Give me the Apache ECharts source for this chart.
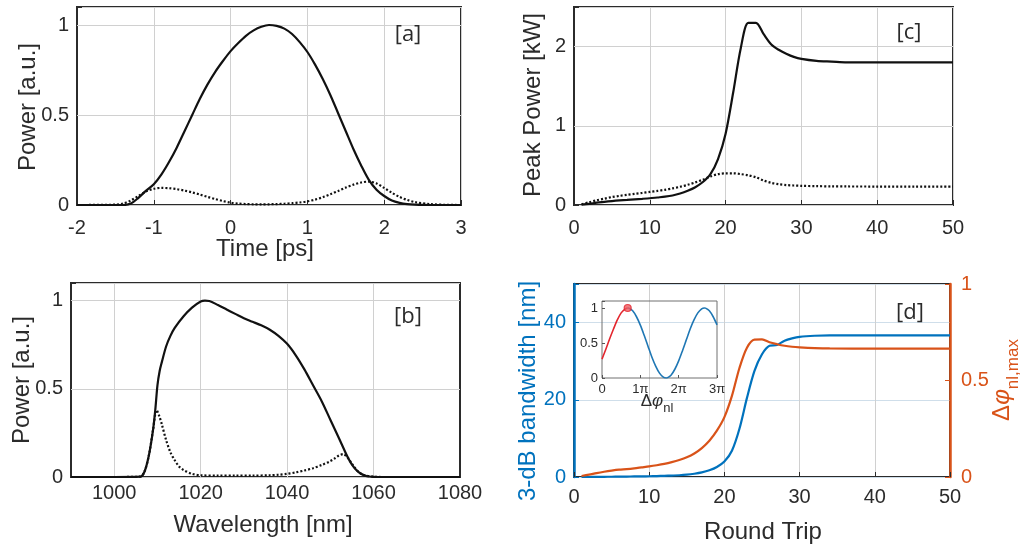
<!DOCTYPE html>
<html><head><meta charset="utf-8">
<script src="https://cdn.jsdelivr.net/npm/echarts@6/dist/echarts.min.js"></script>
<style>html,body{margin:0;padding:0;background:#fff}#c{width:1025px;height:547px}</style>
</head><body><div id="c"></div>
<script>
// ---------- Panel [a]: temporal power ----------
const timeA = [-2, -1.5, -1.4, -1.3, -1.2, -1.1, -1.0, -0.9, -0.8, -0.7, -0.6, -0.5, -0.4, -0.3, -0.2, -0.1, 0, 0.1, 0.2, 0.3, 0.4, 0.5, 0.6, 0.7, 0.8, 0.9, 1.0, 1.1, 1.2, 1.3, 1.4, 1.5, 1.6, 1.7, 1.8, 1.9, 2.0, 2.1, 2.2, 2.3, 2.4, 2.6, 2.8, 3.0];
const powerASolid = [0, 0, 0, 0.008, 0.04, 0.08, 0.115, 0.17, 0.24, 0.32, 0.41, 0.5, 0.59, 0.67, 0.74, 0.8, 0.855, 0.9, 0.94, 0.97, 0.99, 1.0, 0.995, 0.98, 0.95, 0.905, 0.85, 0.78, 0.7, 0.61, 0.51, 0.41, 0.31, 0.22, 0.14, 0.085, 0.05, 0.025, 0.012, 0.005, 0.002, 0, 0, 0];
const powerADot = [0, 0.002, 0.008, 0.025, 0.05, 0.075, 0.09, 0.095, 0.093, 0.088, 0.08, 0.07, 0.058, 0.045, 0.033, 0.022, 0.013, 0.008, 0.005, 0.004, 0.004, 0.004, 0.005, 0.007, 0.01, 0.014, 0.02, 0.03, 0.043, 0.06, 0.078, 0.097, 0.113, 0.125, 0.13, 0.12, 0.095, 0.068, 0.045, 0.028, 0.016, 0.005, 0.001, 0];
const powerTicksY = [0.5, 1];

// ---------- Panel [b]: spectrum ----------
const wlBSolid = [990, 1000, 1006, 1007, 1008, 1009, 1009.5, 1010, 1010.5, 1011, 1012, 1013, 1014, 1016, 1018, 1020, 1021, 1022, 1024, 1026, 1028, 1030, 1032, 1034, 1036, 1038, 1040, 1042, 1044, 1046, 1048, 1050, 1052, 1054, 1055, 1056, 1057, 1058, 1059, 1060, 1062, 1070, 1080];
const powerBSolid = [0, 0, 0.002, 0.03, 0.12, 0.27, 0.38, 0.52, 0.6, 0.65, 0.74, 0.8, 0.845, 0.91, 0.96, 0.995, 1.0, 0.998, 0.975, 0.95, 0.925, 0.9, 0.88, 0.86, 0.835, 0.8, 0.755, 0.69, 0.61, 0.52, 0.43, 0.325, 0.22, 0.113, 0.07, 0.04, 0.02, 0.008, 0.003, 0.001, 0, 0, 0];
const wlBDot = [990, 1000, 1006, 1007, 1008, 1009, 1009.8, 1010.5, 1011, 1012, 1013, 1014, 1015, 1016, 1018, 1020, 1024, 1028, 1032, 1036, 1038, 1040, 1042, 1044, 1046, 1048, 1050, 1051, 1052, 1053, 1054, 1055, 1056, 1057, 1058, 1060, 1062, 1070, 1080];
const powerBDot = [0, 0, 0.002, 0.03, 0.12, 0.27, 0.38, 0.34, 0.3, 0.21, 0.14, 0.095, 0.06, 0.04, 0.018, 0.01, 0.008, 0.008, 0.008, 0.01, 0.013, 0.018, 0.026, 0.037, 0.05, 0.068, 0.09, 0.105, 0.122, 0.13, 0.11, 0.075, 0.042, 0.02, 0.009, 0.002, 0, 0, 0];
const wavelengthTicks = [1000, 1020, 1040, 1060];

// ---------- Panel [c]: peak power ----------
const roundC = [1, 2, 3, 4, 5, 6, 7, 8, 9, 10, 11, 12, 13, 14, 15, 16, 17, 18, 19, 20, 21, 22, 23, 24, 25, 26, 27, 28, 29, 30, 32, 34, 36, 40, 45, 50];
const peakSolid = [0.005, 0.015, 0.03, 0.04, 0.05, 0.058, 0.065, 0.072, 0.078, 0.085, 0.095, 0.105, 0.12, 0.145, 0.18, 0.225, 0.29, 0.39, 0.58, 0.9, 1.42, 1.98, 2.3, 2.3, 2.16, 2.03, 1.96, 1.91, 1.87, 1.845, 1.82, 1.81, 1.8, 1.8, 1.8, 1.8];
const peakDot = [0.01, 0.035, 0.06, 0.08, 0.1, 0.115, 0.128, 0.14, 0.152, 0.165, 0.178, 0.192, 0.21, 0.23, 0.255, 0.285, 0.32, 0.36, 0.39, 0.4, 0.4, 0.39, 0.375, 0.35, 0.31, 0.28, 0.262, 0.252, 0.246, 0.242, 0.238, 0.235, 0.234, 0.233, 0.232, 0.232];
const peakTicksY = [1, 2];

// ---------- Panel [d]: bandwidth & nonlinear phase ----------
const roundD = [1, 2, 3, 4, 5, 6, 7, 8, 9, 10, 11, 12, 13, 14, 15, 16, 17, 18, 19, 20, 21, 22, 23, 24, 25, 26, 27, 28, 29, 30, 32, 34, 40, 50];
const bandwidthD = [0, 0, 0.02, 0.05, 0.07, 0.1, 0.12, 0.15, 0.17, 0.2, 0.25, 0.3, 0.37, 0.45, 0.6, 0.85, 1.2, 1.75, 2.6, 4.0, 6.8, 12.5, 20.5, 27.5, 31.8, 34.0, 34.2, 35.3, 35.9, 36.3, 36.6, 36.7, 36.7, 36.7];
const phiMaxD = [0.005, 0.012, 0.02, 0.027, 0.033, 0.038, 0.041, 0.045, 0.05, 0.055, 0.061, 0.068, 0.077, 0.088, 0.102, 0.122, 0.15, 0.188, 0.24, 0.31, 0.42, 0.565, 0.67, 0.712, 0.713, 0.698, 0.688, 0.68, 0.675, 0.672, 0.668, 0.666, 0.665, 0.665];

// ---------- Inset: transmission vs nonlinear phase (units of pi) ----------
const phiRed = [0, 0.1, 0.2, 0.3, 0.4, 0.5, 0.6, 0.67];
const transRed = [0.27, 0.41, 0.56, 0.7, 0.83, 0.93, 0.985, 1.0];
const phiBlue = [0.67, 0.7, 0.8, 0.9, 1.0, 1.1, 1.2, 1.3, 1.4, 1.5, 1.6, 1.67, 1.7, 1.8, 1.9, 2.0, 2.1, 2.2, 2.3, 2.4, 2.5, 2.6, 2.67, 2.7, 2.8, 2.9, 3.0];
const transBlue = [1.0, 0.998, 0.96, 0.875, 0.755, 0.61, 0.455, 0.3, 0.17, 0.07, 0.012, 0, 0.002, 0.04, 0.125, 0.245, 0.39, 0.545, 0.7, 0.83, 0.93, 0.988, 1.0, 0.998, 0.96, 0.875, 0.76];
const operatingPoint = [[0.67, 1.0]];
const insetXTicks = ['0', '1π', '2π', '3π'];

// ---------- styling ----------
const FONT = '"Liberation Sans", Arial, sans-serif';
const TXT = '#2b2b2b';
const GRIDC = '#d0d0d0';
const BLUE = '#0072BD';
const ORANGE = '#D95319';
const RED = '#e3262e';

const pairs = (xs, ys) => xs.map((x, i) => [x, ys[i]]);
const fmtNum = v => (Math.round(v * 1000) / 1000).toString();
const onStep = (v, s) => Math.abs(v / s - Math.round(v / s)) < 1e-6;

function xAx(gi, min, max, interval, margin, extra) {
  return Object.assign({
    type: 'value', gridIndex: gi, min, max, interval,
    axisLine: { show: false, onZero: false },
    axisTick: { show: true, inside: true, length: 5, lineStyle: { color: TXT, width: 1 } },
    axisLabel: { color: TXT, fontSize: 20, fontFamily: FONT, margin: margin, showMinLabel: true, showMaxLabel: true,
      formatter: v => onStep(v, interval) ? fmtNum(v) : '' },
    splitLine: { show: true, lineStyle: { color: GRIDC, width: 1 } }
  }, extra || {});
}
function yAx(gi, min, max, interval, step, extra) {
  return Object.assign({
    type: 'value', gridIndex: gi, min, max, interval,
    axisLine: { show: true, onZero: false, lineStyle: { color: TXT, width: 2 } },
    axisTick: { show: true, inside: true, length: 5, lineStyle: { color: TXT, width: 1 } },
    axisLabel: { color: TXT, fontSize: 20, fontFamily: FONT, margin: 8, showMinLabel: true,
      formatter: v => onStep(v, step) ? fmtNum(v) : '' },
    splitLine: { show: true, lineStyle: { color: GRIDC, width: 1 } }
  }, extra || {});
}
function line(xi, yi, data, color, dotted, width) {
  return {
    type: 'line', xAxisIndex: xi, yAxisIndex: yi, data, showSymbol: false, symbol: 'none',
    smooth: 0.3, silent: true, z: 3, animation: false,
    lineStyle: { color, width: width || 2.2, type: dotted ? [2, 2] : 'solid' }
  };
}
// invisible copy of a curve that carries the gridlines as mark lines
function gridHelper(xi, yi, data, xs, ys) {
  return {
    type: 'line', xAxisIndex: xi, yAxisIndex: yi, data, showSymbol: false, symbol: 'none', silent: true, z: 2,
    lineStyle: { width: 0, opacity: 0 },
    markLine: { silent: true, symbol: 'none', z: 1, label: { show: false }, animation: false,
      lineStyle: { color: GRIDC, width: 1, type: 'solid', opacity: 1 },
      data: xs.map(v => ({ xAxis: v })).concat(ys.map(v => ({ yAxis: v }))) }
  };
}
function label(x, y, text, size, color, rot, extra) {
  return {
    type: 'text', x, y, rotation: rot || 0, z: 10,
    style: Object.assign({ text, fill: color || TXT, fontSize: size, fontFamily: FONT,
      align: 'center', verticalAlign: 'middle', textAlign: 'center', textVerticalAlign: 'middle' }, extra || {})
  };
}

const gridBox = { show: true, borderColor: TXT, borderWidth: 2, backgroundColor: 'transparent' };

const option = {
  animation: false,
  backgroundColor: '#fff',
  grid: [
    Object.assign({ left: 77, top: 7, width: 384, height: 198 }, gridBox),   // a
    Object.assign({ left: 71, top: 283, width: 389, height: 194 }, gridBox), // b
    Object.assign({ left: 574, top: 7, width: 379, height: 198 }, gridBox),  // c
    Object.assign({ left: 574, top: 284, width: 376, height: 193 }, gridBox), // d
    { left: 602, top: 301, width: 115, height: 77, show: true, borderColor: '#707070', borderWidth: 1, backgroundColor: 'transparent', z: 5 } // inset
  ],
  xAxis: [
    xAx(0, -2, 3, 1, 13),
    xAx(1, 990, 1080, 10, 6, {
      axisTick: { show: false }, splitLine: { show: false },
      axisLabel: { color: TXT, fontSize: 20, fontFamily: FONT, margin: 6, showMinLabel: true, showMaxLabel: true,
        formatter: v => onStep(v, 20) && v >= 1000 ? fmtNum(v) : '' }
    }),
    xAx(2, 0, 50, 10, 13),
    xAx(3, 0, 50, 10, 10),
    xAx(4, 0, 3, 1, 5, {
      axisTick: { show: true, inside: true, length: 3, lineStyle: { color: '#555' } },
      splitLine: { show: false }, z: 6,
      axisLabel: { color: TXT, fontSize: 13, fontFamily: FONT, margin: 5, showMinLabel: true, showMaxLabel: true,
        formatter: v => onStep(v, 1) ? insetXTicks[Math.round(v)] : '' }
    })
  ],
  yAxis: [
    yAx(0, 0, 1.1, 0.5, 0.5),
    yAx(1, 0, 1.1, 0.5, 0.5),
    yAx(2, 0, 2.5, 1, 1),
    yAx(3, 0, 50, 20, 20, {
      axisLine: { show: true, onZero: false, lineStyle: { color: BLUE, width: 2.5 } },
      axisTick: { show: true, inside: true, length: 5, lineStyle: { color: BLUE } },
      axisLabel: { color: BLUE, fontSize: 20, fontFamily: FONT, margin: 8, showMinLabel: true,
        formatter: v => onStep(v, 20) ? fmtNum(v) : '' },
      splitLine: { show: true, lineStyle: { color: '#cfdeea', width: 1 } }
    }),
    yAx(3, 0, 1, 0.5, 0.5, {
      position: 'right',
      axisLine: { show: true, onZero: false, lineStyle: { color: ORANGE, width: 2.5 } },
      axisTick: { show: true, inside: true, length: 5, lineStyle: { color: ORANGE } },
      axisLabel: { color: ORANGE, fontSize: 20, fontFamily: FONT, margin: 11, showMinLabel: true, showMaxLabel: true,
        formatter: v => onStep(v, 0.5) ? fmtNum(v) : '' },
      splitLine: { show: false }
    }),
    yAx(4, 0, 1.1, 0.5, 0.5, {
      axisLine: { show: false, onZero: false },
      axisTick: { show: true, inside: true, length: 3, lineStyle: { color: '#555' } },
      splitLine: { show: false }, z: 6,
      axisLabel: { color: TXT, fontSize: 13, fontFamily: FONT, margin: 4, showMinLabel: true,
        formatter: v => onStep(v, 0.5) ? fmtNum(v) : '' }
    })
  ],
  series: [
    gridHelper(0, 0, pairs(timeA, powerASolid), [], powerTicksY),
    line(0, 0, pairs(timeA, powerADot), '#111', true),
    line(0, 0, pairs(timeA, powerASolid), '#111', false),
    gridHelper(1, 1, pairs(wlBSolid, powerBSolid), wavelengthTicks, powerTicksY),
    line(1, 1, pairs(wlBDot, powerBDot), '#111', true),
    line(1, 1, pairs(wlBSolid, powerBSolid), '#111', false),
    gridHelper(2, 2, pairs(roundC, peakSolid), [], peakTicksY),
    line(2, 2, pairs(roundC, peakDot), '#111', true),
    line(2, 2, pairs(roundC, peakSolid), '#111', false),
    line(3, 3, pairs(roundD, bandwidthD), BLUE, false),
    line(3, 4, pairs(roundD, phiMaxD), ORANGE, false),
    Object.assign(line(4, 5, pairs(phiRed, transRed), RED, false, 1.6), { z: 7 }),
    Object.assign(line(4, 5, pairs(phiBlue, transBlue), '#1f77b4', false, 1.6), { z: 7 }),
    { type: 'scatter', xAxisIndex: 4, yAxisIndex: 5, data: operatingPoint, symbol: 'circle', symbolSize: 7, z: 8,
      silent: true, itemStyle: { color: '#ee5a5f', borderColor: RED, borderWidth: 1.2 } }
  ],
  graphic: [
    label(265, 249, 'Time [ps]', 24),
    label(28, 107, 'Power [a.u.]', 24, TXT, Math.PI / 2),
    label(408, 35, '[a]', 22, TXT, 0, { fontFamily: '"Open Sans", sans-serif' }),
    label(263, 525, 'Wavelength [nm]', 24),
    label(22, 380, 'Power [a.u.]', 24, TXT, Math.PI / 2),
    label(408, 317, '[b]', 22, TXT, 0, { fontFamily: '"Open Sans", sans-serif' }),
    label(533, 105, 'Peak Power [kW]', 24, TXT, Math.PI / 2),
    label(909, 33, '[c]', 22, TXT, 0, { fontFamily: '"Open Sans", sans-serif' }),
    label(763, 532, 'Round Trip', 24),
    label(528, 391, '3-dB bandwidth [nm]', 24, BLUE, Math.PI / 2),
    label(910, 313, '[d]', 22, TXT, 0, { fontFamily: '"Open Sans", sans-serif' }),
    label(1006, 380, '{a|Δ}{b|φ}{c|nl,max}', 24, ORANGE, Math.PI / 2, {
      rich: {
        a: { fontSize: 24, fontFamily: FONT, fill: ORANGE, verticalAlign: 'bottom', padding: [0, 0, 7, 0] },
        b: { fontSize: 24, fontFamily: FONT, fontStyle: 'italic', fill: ORANGE, verticalAlign: 'bottom', padding: [0, 0, 7, 0] },
        c: { fontSize: 17, fontFamily: FONT, fill: ORANGE, verticalAlign: 'bottom' }
      }
    }),
    label(657, 404, '{a|Δ}{b|φ}{c|nl}', 16, TXT, 0, {
      rich: {
        a: { fontSize: 17, fontFamily: FONT, fill: TXT, verticalAlign: 'bottom', padding: [0, 0, 5, 0] },
        b: { fontSize: 17, fontFamily: FONT, fontStyle: 'italic', fill: TXT, verticalAlign: 'bottom', padding: [0, 0, 5, 0] },
        c: { fontSize: 13, fontFamily: FONT, fill: TXT, verticalAlign: 'bottom' }
      }
    })
  ]
};

const chart = echarts.init(document.getElementById('c'), null, { renderer: 'canvas' });
chart.setOption(option);
</script>
</body></html>
